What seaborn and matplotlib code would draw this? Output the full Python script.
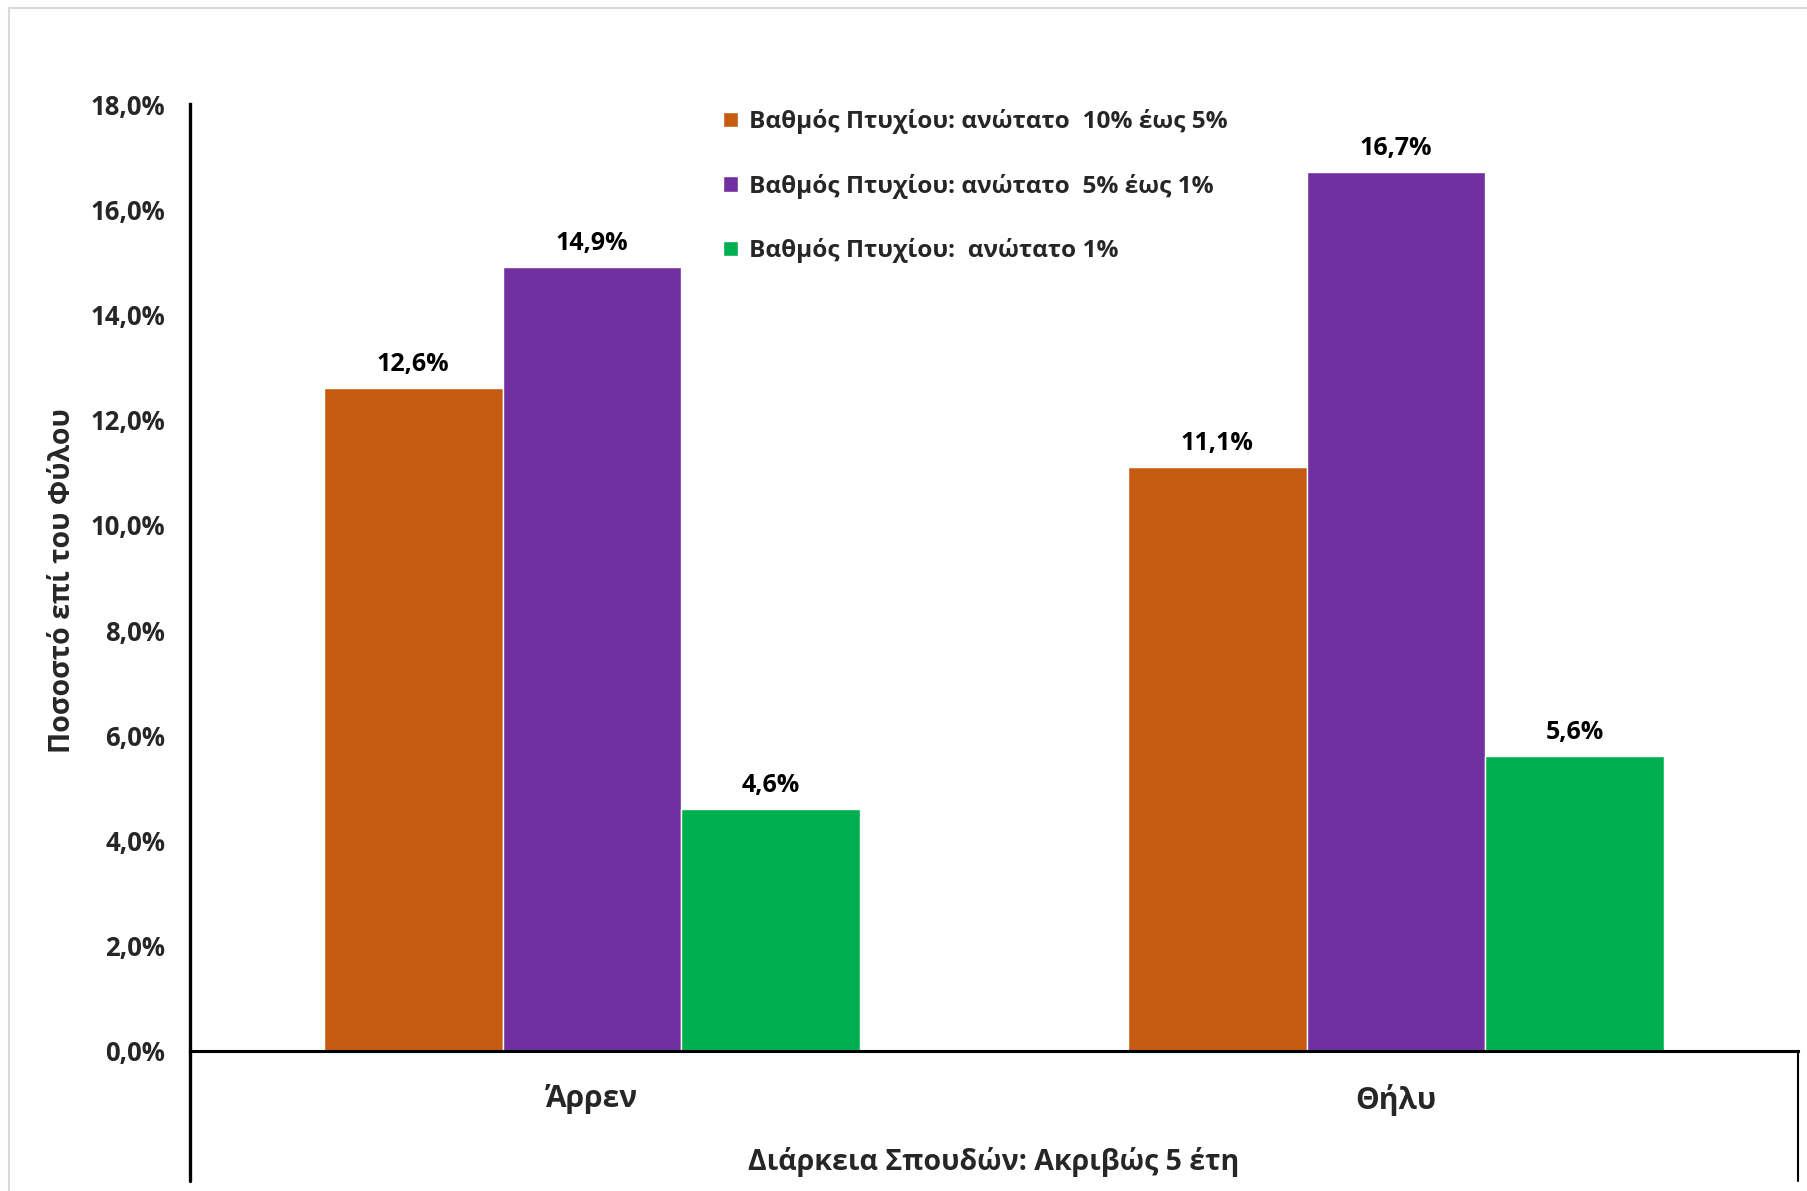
"""
Grouped bar chart: share of graduates per grade band, by gender
(study duration exactly 5 years).
"""

import matplotlib
matplotlib.use("Agg")
import matplotlib.pyplot as plt
from matplotlib.lines import Line2D
import seaborn as sns
import pandas as pd

# Data
genders = ['Άρρεν', 'Θήλυ']
grade_bands = [
    'Βαθμός Πτυχίου: ανώτατο  10% έως 5%',
    'Βαθμός Πτυχίου: ανώτατο  5% έως 1%',
    'Βαθμός Πτυχίου:  ανώτατο 1%',
]
top_10_to_5 = [12.6, 11.1]
top_5_to_1 = [14.9, 16.7]
top_1 = [4.6, 5.6]
y_ticks = [0, 2, 4, 6, 8, 10, 12, 14, 16, 18]

colors = ['#C55A11', '#7030A0', '#00B050']

sns.set_theme(style='white')
plt.rcParams['font.family'] = ['Open Sans', 'DejaVu Sans']
plt.rcParams['font.weight'] = 'bold'

# Long-format table for seaborn
rows = []
for band, values in zip(grade_bands, [top_10_to_5, top_5_to_1, top_1]):
    for g, v in zip(genders, values):
        rows.append({'Φύλο': g, 'Βαθμός': band, 'Ποσοστό': v})
df = pd.DataFrame(rows)

W, H = 1807, 1191
fig = plt.figure(figsize=(W / 100, H / 100), dpi=100)
ax = fig.add_axes([190 / W, 1 - 1051 / H, (1798 - 190) / W, (1051 - 104) / H])

sns.barplot(
    data=df, x='Φύλο', y='Ποσοστό', hue='Βαθμός',
    order=genders, hue_order=grade_bands,
    palette=colors, saturation=1, width=0.667, gap=0,
    errorbar=None, ax=ax,
)

# Value labels above the bars
for container in ax.containers:
    ax.bar_label(
        container,
        labels=[f'{v:.1f}%'.replace('.', ',') for v in container.datavalues],
        padding=8, fontsize=18, fontweight='bold', color='black',
    )

ax.set_ylim(0, 18)
ax.set_xlim(-0.5, 1.5)
ax.set_yticks(y_ticks)
ax.set_yticklabels([f'{v:.1f}%'.replace('.', ',') for v in y_ticks],
                   fontsize=18.5, fontweight='bold')
ax.tick_params(axis='y', length=0, pad=18)
ax.tick_params(axis='x', length=0, pad=24, labelsize=21.5)
for lbl in ax.get_xticklabels():
    lbl.set_fontweight('bold')

ax.set_ylabel('Ποσοστό επί του Φύλου', fontsize=20.5, fontweight='bold')
ax.yaxis.set_label_coords(-0.079, 0.497)
ax.yaxis.label.set_va('center')
ax.set_xlabel('Διάρκεια Σπουδών: Ακριβώς 5 έτη', fontsize=20.5, fontweight='bold')
ax.xaxis.set_label_coords(0.5, -0.117)
ax.xaxis.label.set_va('center')

# Axis lines
for side in ['top', 'right']:
    ax.spines[side].set_visible(False)
ax.spines['left'].set_linewidth(2.4)
ax.spines['bottom'].set_linewidth(2.2)
ax.spines['left'].set_color('black')
ax.spines['bottom'].set_color('black')

# Category-axis box lines extending below the plot
ax.add_line(Line2D([0, 0], [0, -0.137], transform=ax.transAxes,
                   color='black', linewidth=2.4, clip_on=False))
ax.add_line(Line2D([1, 1], [0, -0.137], transform=ax.transAxes,
                   color='black', linewidth=1.5, clip_on=False))

# Legend
handles, labels = ax.get_legend_handles_labels()
ax.legend(
    handles, labels, loc='upper left', bbox_to_anchor=(0.318, 1.018),
    frameon=False, labelspacing=1.62,
    handlelength=0.6, handleheight=0.6, handletextpad=0.45,
    prop={'weight': 'bold', 'size': 17.6},
)

# Light grey outer chart border
fig.add_artist(Line2D([9 / W, 1], [1 - 8 / H, 1 - 8 / H], transform=fig.transFigure,
                      color='#D9D9D9', linewidth=1.5))
fig.add_artist(Line2D([9 / W, 9 / W], [0, 1 - 8 / H], transform=fig.transFigure,
                      color='#D9D9D9', linewidth=1.5))

fig.savefig('out.png', dpi=100, facecolor='white')
